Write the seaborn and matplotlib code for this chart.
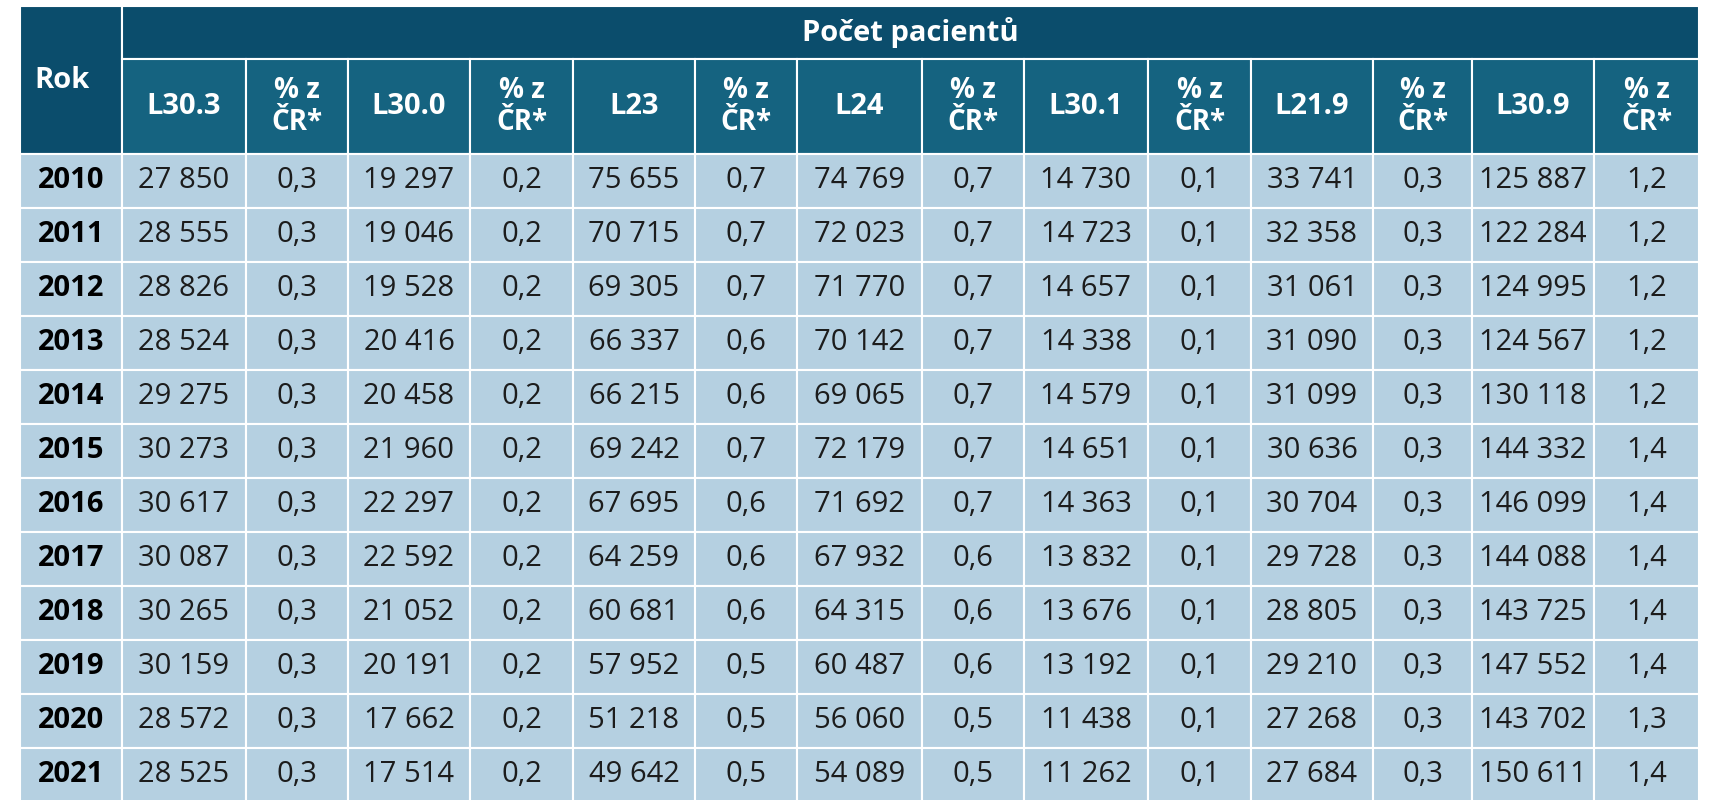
import matplotlib
matplotlib.use("Agg")
import matplotlib.pyplot as plt
import matplotlib.patches as patches
import seaborn as sns

# -------------------------
# Table data
# -------------------------

years = [2010, 2011, 2012, 2013, 2014, 2015, 2016, 2017, 2018, 2019, 2020, 2021]
codes = ["L30.3", "L30.0", "L23", "L24", "L30.1", "L21.9", "L30.9"]

l30_3 = [27850, 28555, 28826, 28524, 29275, 30273, 30617, 30087, 30265, 30159, 28572, 28525]
l30_3_pct = [0.3] * 12
l30_0 = [19297, 19046, 19528, 20416, 20458, 21960, 22297, 22592, 21052, 20191, 17662, 17514]
l30_0_pct = [0.2] * 12
l23 = [75655, 70715, 69305, 66337, 66215, 69242, 67695, 64259, 60681, 57952, 51218, 49642]
l23_pct = [0.7, 0.7, 0.7, 0.6, 0.6, 0.7, 0.6, 0.6, 0.6, 0.5, 0.5, 0.5]
l24 = [74769, 72023, 71770, 70142, 69065, 72179, 71692, 67932, 64315, 60487, 56060, 54089]
l24_pct = [0.7, 0.7, 0.7, 0.7, 0.7, 0.7, 0.7, 0.6, 0.6, 0.6, 0.5, 0.5]
l30_1 = [14730, 14723, 14657, 14338, 14579, 14651, 14363, 13832, 13676, 13192, 11438, 11262]
l30_1_pct = [0.1] * 12
l21_9 = [33741, 32358, 31061, 31090, 31099, 30636, 30704, 29728, 28805, 29210, 27268, 27684]
l21_9_pct = [0.3] * 12
l30_9 = [125887, 122284, 124995, 124567, 130118, 144332, 146099, 144088, 143725, 147552, 143702, 150611]
l30_9_pct = [1.2, 1.2, 1.2, 1.2, 1.2, 1.4, 1.4, 1.4, 1.4, 1.4, 1.3, 1.4]

counts = [l30_3, l30_0, l23, l24, l30_1, l21_9, l30_9]
pcts = [l30_3_pct, l30_0_pct, l23_pct, l24_pct, l30_1_pct, l21_9_pct, l30_9_pct]

# -------------------------
# Layout / style
# -------------------------

sns.set_theme(style="white")
plt.rcParams["font.family"] = ["Open Sans", "DejaVu Sans"]

TITLE_BG = "#0b4d6c"
HEAD_BG = "#156380"
CELL_BG = "#b5d0e1"
TEXT = "#1c1c1c"

col_edges = [20, 122, 246, 348, 470, 573, 695, 797, 922, 1024, 1148, 1251, 1373, 1472, 1594, 1699]
top, title_bottom, head_bottom, row_h = 6, 59, 154, 54


def fmt_count(v):
    return f"{v:,}".replace(",", " ")


def fmt_pct(v):
    return f"{v:.1f}".replace(".", ",")


fig = plt.figure(figsize=(17.27, 8.0), dpi=100)
ax = fig.add_axes([0, 0, 1, 1])
ax.set_xlim(0, 1727)
ax.set_ylim(800, 0)
ax.axis("off")


def cell(x0, x1, y0, y1, color):
    ax.add_patch(patches.Rectangle((x0, y0), x1 - x0, y1 - y0, facecolor=color,
                                   edgecolor="white", linewidth=1.5))


# Title row + Rok
cell(col_edges[0], col_edges[1], top, head_bottom, TITLE_BG)
ax.text(col_edges[0] + 14, 80, "Rok", color="white", fontsize=21, weight="bold",
        ha="left", va="center")
cell(col_edges[1], col_edges[-1], top, title_bottom, TITLE_BG)
ax.text((col_edges[1] + col_edges[-1]) / 2, (top + title_bottom) / 2, "Počet pacientů",
        color="white", fontsize=21, weight="bold", ha="center", va="center")

# Column headers
for i, code in enumerate(codes):
    c = 1 + 2 * i
    hy = (title_bottom + head_bottom) / 2
    cell(col_edges[c], col_edges[c + 1], title_bottom, head_bottom, HEAD_BG)
    ax.text((col_edges[c] + col_edges[c + 1]) / 2, hy, code,
            color="white", fontsize=21, weight="bold", ha="center", va="center")
    cell(col_edges[c + 1], col_edges[c + 2], title_bottom, head_bottom, HEAD_BG)
    ax.text((col_edges[c + 1] + col_edges[c + 2]) / 2, hy,
            "% z\nČR*", color="white", fontsize=20, weight="bold", ha="center", va="center",
            linespacing=1.15)

# Data rows
for r, year in enumerate(years):
    y0 = head_bottom + r * row_h
    yc = y0 + row_h / 2
    cell(col_edges[0], col_edges[1], y0, y0 + row_h, CELL_BG)
    ax.text((col_edges[0] + col_edges[1]) / 2, yc, str(year), color="black", fontsize=21,
            weight="bold", ha="center", va="center")
    for i in range(len(codes)):
        c = 1 + 2 * i
        cell(col_edges[c], col_edges[c + 1], y0, y0 + row_h, CELL_BG)
        ax.text((col_edges[c] + col_edges[c + 1]) / 2, yc, fmt_count(counts[i][r]), color=TEXT,
                fontsize=21, ha="center", va="center")
        cell(col_edges[c + 1], col_edges[c + 2], y0, y0 + row_h, CELL_BG)
        ax.text((col_edges[c + 1] + col_edges[c + 2]) / 2, yc, fmt_pct(pcts[i][r]), color=TEXT,
                fontsize=21, ha="center", va="center")

fig.savefig("out.png", dpi=100, facecolor="white")
